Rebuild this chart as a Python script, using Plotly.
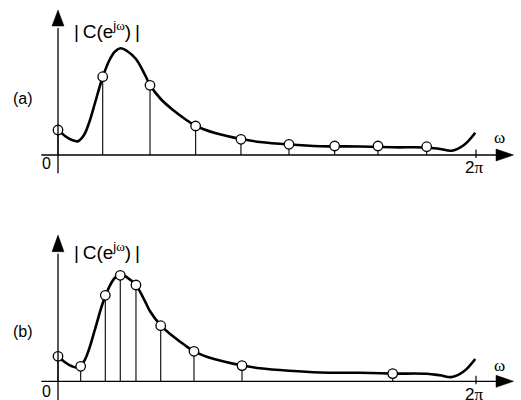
import plotly.graph_objects as go
import math

# ---------------- data ----------------
# underlying magnitude response |C(e^jw)|
curve_w = [0.0, 0.105, 0.210, 0.301, 0.391, 0.466, 0.556, 0.672, 0.782, 0.857, 0.939,
           1.037, 1.172, 1.308, 1.383, 1.544, 1.729, 1.909, 2.059, 2.360, 2.751, 3.036,
           3.472, 3.938, 4.539, 5.035, 5.546, 5.742, 5.922, 6.102, 6.272]
curve_mag = [0.253, 0.19, 0.15, 0.138, 0.20, 0.32, 0.52, 0.78, 0.96, 1.035, 1.067,
             1.04, 0.96, 0.80, 0.70, 0.56, 0.45, 0.36, 0.295, 0.22, 0.16, 0.13,
             0.105, 0.088, 0.085, 0.077, 0.075, 0.06, 0.043, 0.10, 0.223]

# (a) uniform samples
samp_a_w = [0.0, 0.672, 1.383, 2.069, 2.750, 3.472, 4.159, 4.810, 5.542]
samp_a_mag = [0.25, 0.783, 0.697, 0.29, 0.157, 0.107, 0.09, 0.09, 0.083]

# (b) non-uniform samples
samp_b_w = [0.0, 0.341, 0.711, 0.936, 1.172, 1.544, 2.044, 2.766, 5.031]
samp_b_mag = [0.25, 0.15, 0.86, 1.06, 0.963, 0.556, 0.30, 0.157, 0.077]

panel_labels = ["(a)", "(b)"]
y_title = "|\u2009C(e<sup><span style='font-size:13px'>j</span><span style='font-size:13px;font-family:Liberation Serif'>ω</span></sup>)\u2009|"
x_label = "ω"
x_tick_label = "2<span style='font-family:Liberation Serif'>π</span>"
origin_label = "0"

# ---------------- layout helpers ----------------
W, H = 521, 400
PX_PER_RAD = 418 / (2 * math.pi)
X0_PX = 58
xr = [-X0_PX / PX_PER_RAD, (W - X0_PX) / PX_PER_RAD]
# (a) zero line at pixel 155, (b) at 381.3 ; 100 px per unit
yr_a = [-(200 - 155) / 100, 155 / 100]
yr_b = [-(400 - 381.3) / 100, (381.3 - 200) / 100]

fig = go.Figure()

def add_panel(xa, ya, sw, sm):
    # curve
    fig.add_trace(go.Scatter(x=curve_w, y=curve_mag, mode="lines",
                             line=dict(color="black", width=2.6, shape="spline", smoothing=1.0),
                             xaxis=xa, yaxis=ya, hoverinfo="skip"))
    # stems
    sx, sy = [], []
    for w, m in zip(sw, sm):
        sx += [w, w, None]
        sy += [0, m, None]
    fig.add_trace(go.Scatter(x=sx, y=sy, mode="lines",
                             line=dict(color="black", width=1.1),
                             xaxis=xa, yaxis=ya, hoverinfo="skip"))
    # sample markers
    fig.add_trace(go.Scatter(x=sw, y=sm, mode="markers",
                             marker=dict(size=9.5, color="white",
                                         line=dict(color="black", width=1.3)),
                             xaxis=xa, yaxis=ya, hoverinfo="skip"))

add_panel("x", "y", samp_a_w, samp_a_mag)
add_panel("x2", "y2", samp_b_w, samp_b_mag)

def axis_shapes(xref, yref, y_tip, y_base, y_bottom):
    shp = []
    x_left = (41.3 - X0_PX) / PX_PER_RAD
    x_base = (496 - X0_PX) / PX_PER_RAD
    x_tip = (513.5 - X0_PX) / PX_PER_RAD
    hw = 6 / PX_PER_RAD
    shp.append(dict(type="line", xref=xref, yref=yref, x0=x_left, x1=x_base + 0.02,
                    y0=0, y1=0, line=dict(color="black", width=1.3)))
    shp.append(dict(type="path", xref=xref, yref=yref,
                    path=f"M {x_base},0.06 L {x_tip},0 L {x_base},-0.06 Z",
                    fillcolor="black", line=dict(color="black", width=0.5)))
    shp.append(dict(type="line", xref=xref, yref=yref, x0=0, x1=0,
                    y0=y_bottom, y1=y_base - 0.02, line=dict(color="black", width=1.3)))
    shp.append(dict(type="path", xref=xref, yref=yref,
                    path=f"M {-hw},{y_base} L 0,{y_tip} L {hw},{y_base} Z",
                    fillcolor="black", line=dict(color="black", width=0.5)))
    # 2pi tick
    tp = 2 * math.pi
    shp.append(dict(type="line", xref=xref, yref=yref, x0=tp, x1=tp,
                    y0=-0.03, y1=0.055, line=dict(color="black", width=1.2)))
    return shp

shapes = axis_shapes("x", "y", 1.45, 1.29, -0.183) + \
         axis_shapes("x2", "y2", 1.463, 1.296, -0.19)

def ann(text, px, py, size, family="Liberation Sans", xanchor="center", yanchor="middle"):
    return dict(text=text, x=px / W, y=1 - py / H, xref="paper", yref="paper",
                showarrow=False, xanchor=xanchor, yanchor=yanchor,
                font=dict(size=size, family=family, color="black"))

annotations = []
for i, lab in enumerate(panel_labels):
    annotations.append(ann(lab, 23, 98 + 233 * i, 16))
    annotations.append(ann(y_title, 72, 44 + 221 * i, 19, xanchor="left", yanchor="bottom"))
    annotations.append(ann(origin_label, 46.5, 164 + 227 * i, 16))
    annotations.append(ann(x_label, 499, 137 + 228.5 * i, 17, family="Liberation Serif"))
    annotations.append(ann(x_tick_label, 474, 167 + 227.5 * i, 17))

ax_common = dict(range=xr, visible=False, fixedrange=True)
fig.update_layout(
    width=W, height=H,
    margin=dict(l=0, r=0, t=0, b=0),
    paper_bgcolor="white", plot_bgcolor="white",
    showlegend=False,
    xaxis=dict(domain=[0, 1], anchor="y", **ax_common),
    yaxis=dict(domain=[0.5, 1], range=yr_a, visible=False, fixedrange=True, anchor="x"),
    xaxis2=dict(domain=[0, 1], anchor="y2", **ax_common),
    yaxis2=dict(domain=[0, 0.5], range=yr_b, visible=False, fixedrange=True, anchor="x2"),
    shapes=shapes,
    annotations=annotations,
)

fig.write_html("out.html", config={"displayModeBar": False},
               post_script="document.body.style.margin='0';document.body.style.overflow='hidden';")
